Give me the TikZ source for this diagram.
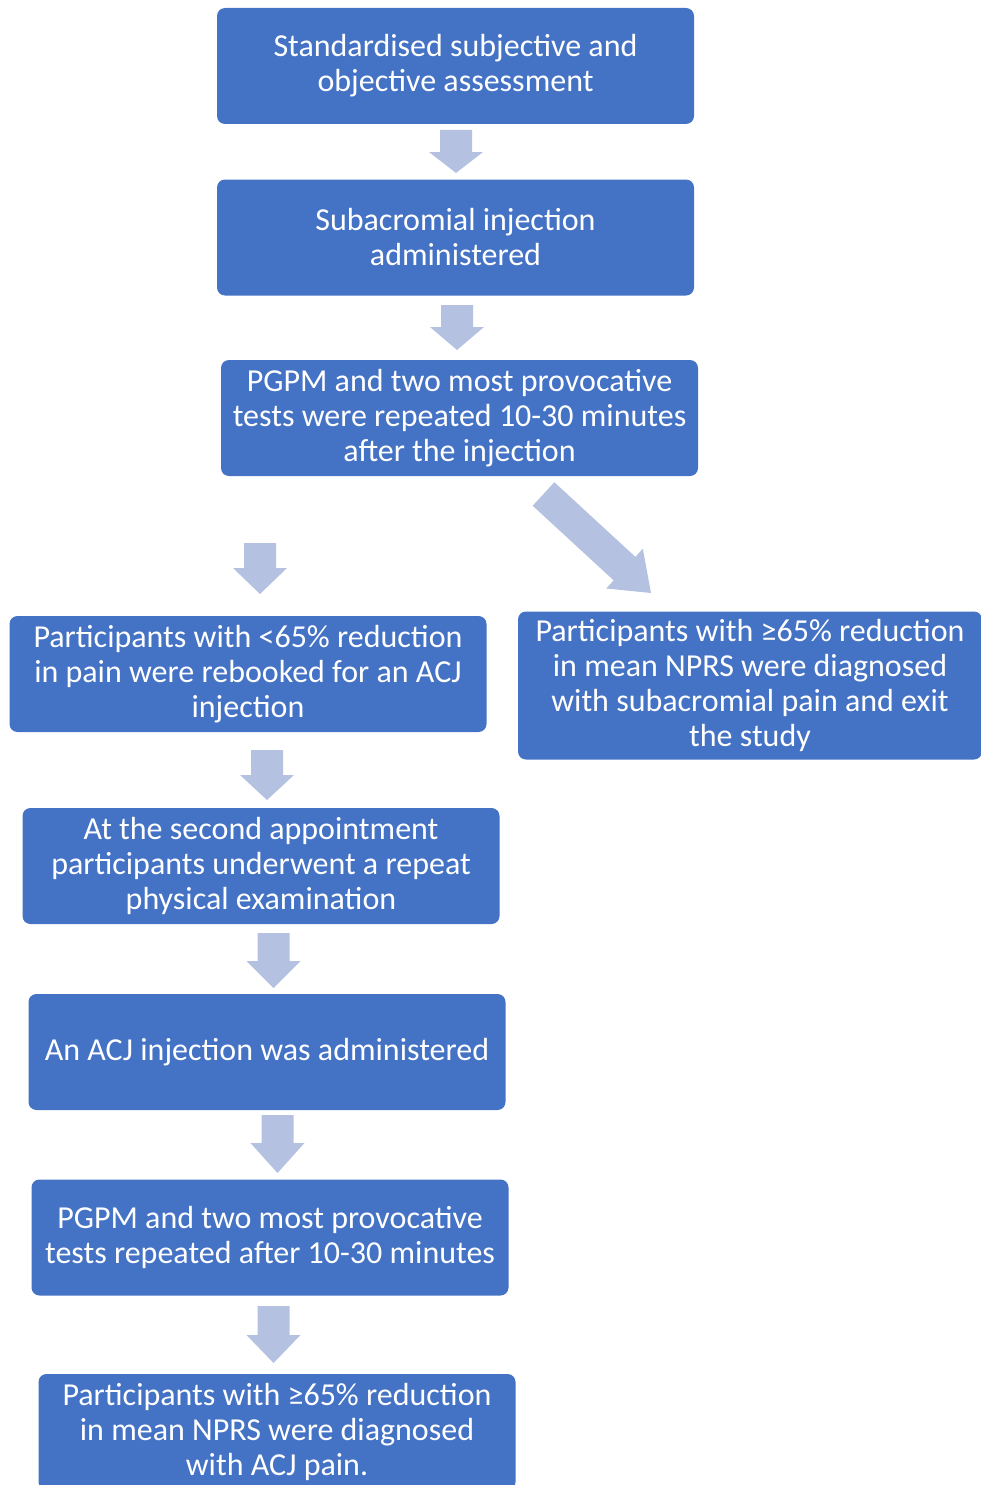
\documentclass[tikz,border=0pt]{standalone}
\usepackage{fontspec}
\setmainfont{Carlito}
\usetikzlibrary{calc}
\definecolor{boxblue}{HTML}{4472C4}
\definecolor{arrowblue}{HTML}{B4C1E1}
% block arrow from #1 to #2, head length #3
\newcommand\blockarrow[3]{%
  \coordinate (hb) at ($(#2)!#3!(#1)$);
  \fill[arrowblue]
    ($(#1)!16pt!90:(#2)$) -- ($(hb)!16pt!-90:(#1)$) -- ($(hb)!27pt!-90:(#1)$) -- (#2)
    -- ($(hb)!27pt!90:(#1)$) -- ($(hb)!16pt!90:(#1)$) -- ($(#1)!16pt!-90:(#2)$) -- cycle;
}
\begin{document}
\begin{tikzpicture}[x=1pt,y=-1pt,
  box/.style={fill=boxblue, rounded corners=8pt, text=white, align=center,
    inner sep=0pt, minimum width=477pt, minimum height=116pt,
    font=\fontsize{32}{35}\selectfont}]
\useasboundingbox (0,0) rectangle (981,1485);

\node[box] (b1) at (455.5,66) {Standardised subjective and\\objective assessment};
\node[box] (b2) at (455.5,237.5) {Subacromial injection\\administered};
\node[box] (b3) at (459.5,418) {PGPM and two most provocative\\tests were repeated 10-30 minutes\\after the injection};
\node[box] (b4) at (248,674) {Participants with <65\% reduction\\in pain were rebooked for an ACJ\\injection};
\node[box, minimum width=464pt, minimum height=148pt] (b5) at (750,685.5) {Participants with ≥65\% reduction\\in mean NPRS were diagnosed\\with subacromial pain and exit\\the study};
\node[box] (b6) at (261,866) {At the second appointment\\participants underwent a repeat\\physical examination};
\node[box] (b7) at (267,1052) {An ACJ injection was administered};
\node[box] (b8) at (270,1237.5) {PGPM and two most provocative\\tests repeated after 10-30 minutes};
\node[box] (b9) at (277,1432) {Participants with ≥65\% reduction\\in mean NPRS were diagnosed\\with ACJ pain.};

\coordinate (a1s) at (456,130);  \coordinate (a1e) at (456,173);
\coordinate (a2s) at (457,305);  \coordinate (a2e) at (457,350);
\coordinate (a3s) at (543.5,494); \coordinate (a3e) at (651,593);
\coordinate (a4s) at (260,543);  \coordinate (a4e) at (260,594);
\coordinate (a5s) at (267,750);  \coordinate (a5e) at (267,800);
\coordinate (a6s) at (273.5,933); \coordinate (a6e) at (273.5,988);
\coordinate (a7s) at (277.5,1115); \coordinate (a7e) at (277.5,1173);
\coordinate (a8s) at (273.5,1306); \coordinate (a8e) at (273.5,1363);

\blockarrow{a1s}{a1e}{21pt}
\blockarrow{a2s}{a2e}{23pt}
\blockarrow{a3s}{a3e}{36pt}
\blockarrow{a4s}{a4e}{26pt}
\blockarrow{a5s}{a5e}{25pt}
\blockarrow{a6s}{a6e}{27pt}
\blockarrow{a7s}{a7e}{30pt}
\blockarrow{a8s}{a8e}{28pt}
\end{tikzpicture}
\end{document}
